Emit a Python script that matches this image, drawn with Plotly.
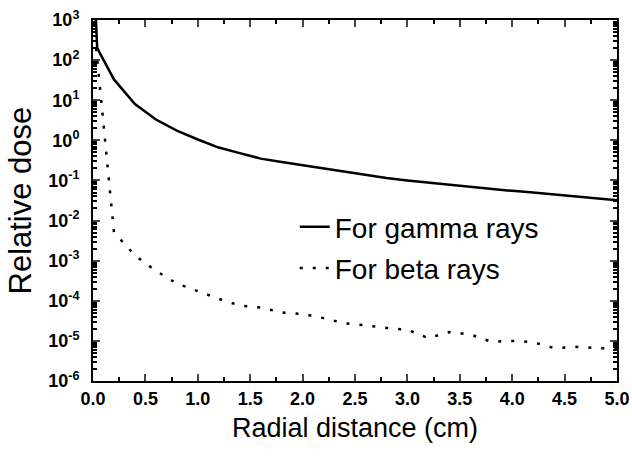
import plotly.graph_objects as go

# Radial distance (cm)
gamma_x = [0.02, 0.04, 0.2, 0.4, 0.6, 0.8, 1.0, 1.2, 1.4, 1.6, 1.8, 2.0, 2.2, 2.4, 2.6,
           2.8, 3.0, 3.2, 3.4, 3.6, 3.8, 4.0, 4.2, 4.4, 4.6, 4.8, 5.0]
gamma_y = [3000, 200, 33, 8, 3.3, 1.75, 1.05, 0.66, 0.48, 0.35, 0.29, 0.24, 0.2, 0.165, 0.137,
           0.115, 0.1, 0.088, 0.078, 0.069, 0.061, 0.055, 0.05, 0.045, 0.04, 0.036, 0.032]

beta_x = [0.03, 0.2, 0.4, 0.6, 0.8, 1.0, 1.2, 1.4, 1.6, 1.8, 2.0, 2.2, 2.4, 2.6, 2.8,
          3.0, 3.2, 3.4, 3.6, 3.8, 4.0, 4.2, 4.4, 4.6, 4.8, 5.0]
beta_y = [200, 5.1e-3, 1.35e-3, 5.6e-4, 2.7e-4, 1.7e-4, 1.12e-4, 7.6e-5, 6.8e-5, 5.1e-5, 4.7e-5,
          3.7e-5, 2.75e-5, 2.45e-5, 2.1e-5, 1.9e-5, 1.17e-5, 1.66e-5, 1.45e-5, 9.5e-6, 1.0e-5,
          9.3e-6, 6.6e-6, 7.1e-6, 6.6e-6, 6.3e-6]

x_ticks = [0.0, 0.5, 1.0, 1.5, 2.0, 2.5, 3.0, 3.5, 4.0, 4.5, 5.0]
x_ticklabels = ["0.0", "0.5", "1.0", "1.5", "2.0", "2.5", "3.0", "3.5", "4.0", "4.5", "5.0"]
y_ticks = [1e3, 1e2, 1e1, 1e0, 1e-1, 1e-2, 1e-3, 1e-4, 1e-5, 1e-6]
y_ticklabels = ["10<sup>3</sup>", "10<sup>2</sup>", "10<sup>1</sup>", "10<sup>0</sup>",
                "10<sup>-1</sup>", "10<sup>-2</sup>", "10<sup>-3</sup>", "10<sup>-4</sup>",
                "10<sup>-5</sup>", "10<sup>-6</sup>"]
y_title = "Relative dose"
x_title = "Radial distance (cm)"

fig = go.Figure()
fig.add_trace(go.Scatter(x=gamma_x, y=gamma_y, mode="lines", name="For gamma rays",
                         legendgroup="g", line=dict(color="black", width=2.5)))
fig.add_trace(go.Scatter(x=beta_x, y=beta_y, mode="lines", name="For beta rays",
                         legendgroup="b", line=dict(color="black", width=2.5, dash="3px,10px")))

font = "Liberation Sans, Arial, sans-serif"
fig.update_layout(
    width=632, height=465,
    margin=dict(l=93, r=15, t=20, b=84),
    paper_bgcolor="white", plot_bgcolor="white",
    font=dict(family=font, color="black"),
    showlegend=True,
    legend=dict(x=0.385, y=0.496, xanchor="left", yanchor="top",
                bgcolor="rgba(0,0,0,0)", font=dict(size=28, family=font),
                tracegroupgap=2),
    xaxis=dict(
        range=[0, 5], tickvals=x_ticks, ticktext=x_ticklabels, automargin=False,
        ticks="inside", ticklen=7, tickwidth=1.5, mirror="ticks",
        showline=True, linecolor="black", linewidth=2, showgrid=False, zeroline=False,
        tickfont=dict(size=18, family="Liberation Sans, Arial", weight="bold"),
        ticklabelstandoff=0,
        minor=dict(ticks="inside", ticklen=4, tickcolor="black", dtick=0.25, showgrid=False),
        title=dict(text=x_title, font=dict(size=27), standoff=11),
    ),
    yaxis=dict(
        type="log", range=[-6, 3], tickvals=y_ticks, ticktext=y_ticklabels, automargin=False,
        ticks="inside", ticklen=7, tickwidth=1.5, mirror="ticks",
        showline=True, linecolor="black", linewidth=2, showgrid=False, zeroline=False,
        tickfont=dict(size=18, family="Liberation Sans, Arial", weight="bold"),
        ticklabelstandoff=8,
        minor=dict(ticks="inside", ticklen=4, tickcolor="black", dtick="D1", showgrid=False),
    ),
    annotations=[dict(text=y_title, textangle=-90, xref="paper", yref="paper",
                      x=0, y=0.5, xanchor="center", yanchor="middle", xshift=-73,
                      showarrow=False, font=dict(size=31, family=font))],
)

fig.write_html("out.html", config={"displayModeBar": False},
               post_script="document.body.style.margin='0';")
